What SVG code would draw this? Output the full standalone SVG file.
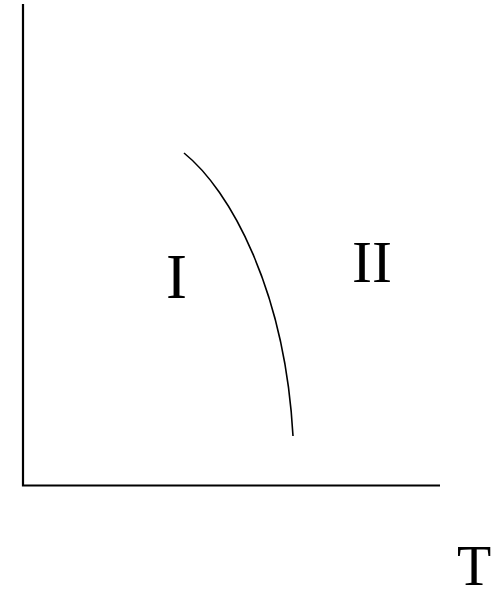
<svg xmlns="http://www.w3.org/2000/svg" width="503" height="592" viewBox="0 0 503 592">
<style>
.ax{stroke:#000;stroke-width:2.2;fill:none}
.cv{stroke:#000;stroke-width:1.6;fill:none}
.lb{font-family:"Liberation Serif","Times New Roman",serif;fill:#000}
</style>
<rect width="503" height="592" fill="#fff"/>
<g id="connectors">
<path id="axes" class="ax" d="M23,4 V485.5 H440"/>
<path id="curve" class="cv" d="M184,153 C230,190 285,290 293,436"/>
</g>
<g id="label-I"><text class="lb" x="166" y="298" font-size="63">I</text></g>
<g id="label-II"><text class="lb" x="352" y="282" font-size="60">II</text></g>
<g id="label-T"><text class="lb" x="457" y="585" font-size="56">T</text></g>
</svg>
